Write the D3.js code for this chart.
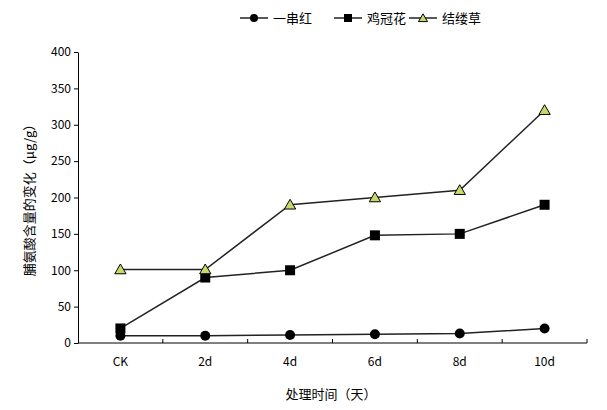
<!DOCTYPE html>
<html><head><meta charset="utf-8">
<script src="https://cdn.jsdelivr.net/npm/d3@7"></script>
<style>body{margin:0;background:#fff}text{font-family:"Noto Sans CJK SC","Open Sans",sans-serif}</style>
</head><body><svg id="chart" width="607" height="410"></svg>
<script>
const categories = ['CK', '2d', '4d', '6d', '8d', '10d'];
const yTicks = [0, 50, 100, 150, 200, 250, 300, 350, 400];
const yichuanhong = [10, 10, 11, 12, 13, 20];
const jiguanhua = [20, 90, 100, 148, 150, 190];
const jielvcao = [101, 101, 190, 200, 210, 320];

const series = [
  { name: '一串红', values: yichuanhong, shape: 'circle', lx: 240 },
  { name: '鸡冠花', values: jiguanhua, shape: 'square', lx: 334 },
  { name: '结缕草', values: jielvcao, shape: 'triangle', lx: 409 }
];

const svg = d3.select('#chart');
const plotLeft = 78, plotRight = 587, plotTop = 52, plotBottom = 343;

const x = d3.scalePoint().domain(categories).range([plotLeft, plotRight]).padding(0.5);
const y = d3.scaleLinear().domain([0, 400]).range([plotBottom, plotTop]);

// y axis
const yAxis = svg.append('g').attr('transform', `translate(${plotLeft},0)`)
  .call(d3.axisLeft(y).tickValues(yTicks).tickSize(4).tickSizeOuter(0));
yAxis.selectAll('text').attr('font-size', 12).attr('fill', '#000');
yAxis.selectAll('line,path').attr('stroke', '#000');

// x axis with ticks between categories
const step = x.step();
svg.append('line').attr('x1', plotLeft).attr('x2', plotRight).attr('y1', plotBottom).attr('y2', plotBottom).attr('stroke', '#000');
categories.slice(1).forEach(c => {
  const tx = x(c) - step / 2;
  svg.append('line').attr('x1', tx).attr('x2', tx).attr('y1', plotBottom).attr('y2', plotBottom - 4).attr('stroke', '#000');
});
svg.append('line').attr('x1', plotRight).attr('x2', plotRight).attr('y1', plotBottom).attr('y2', plotBottom - 4).attr('stroke', '#000');
categories.forEach(c => {
  svg.append('text').attr('x', x(c)).attr('y', plotBottom + 23).attr('text-anchor', 'middle')
    .attr('font-size', 12).text(c);
});

function marker(g, shape, cx, cy, s) {
  if (shape === 'circle') g.append('circle').attr('cx', cx).attr('cy', cy).attr('r', 5 * s).attr('fill', '#000');
  else if (shape === 'square') g.append('rect').attr('x', cx - 5 * s).attr('y', cy - 5 * s).attr('width', 10 * s).attr('height', 10 * s).attr('fill', '#000');
  else g.append('path').attr('d', d3.symbol(d3.symbolTriangle, 55 * s * s)()).attr('transform', `translate(${cx},${cy + 1})`)
    .attr('fill', '#c8d96a').attr('stroke', '#000').attr('stroke-width', 1);
}

const line = d3.line().x((d, i) => x(categories[i])).y(d => y(d));
series.forEach(s => {
  svg.append('path').attr('d', line(s.values)).attr('fill', 'none').attr('stroke', '#222').attr('stroke-width', 1.5);
  s.values.forEach((v, i) => marker(svg, s.shape, x(categories[i]), y(v), 1));
  // legend
  svg.append('line').attr('x1', s.lx).attr('x2', s.lx + 28).attr('y1', 18).attr('y2', 18).attr('stroke', '#222').attr('stroke-width', 1.5);
  marker(svg, s.shape, s.lx + 14, 18, 0.8);
  svg.append('text').attr('x', s.lx + 33).attr('y', 23).attr('font-size', 13).text(s.name);
});

svg.append('text').attr('transform', 'translate(34,197) rotate(-90)').attr('text-anchor', 'middle')
  .attr('font-size', 13).text('脯氨酸含量的变化（μg/g）');
svg.append('text').attr('x', 331).attr('y', 399).attr('text-anchor', 'middle')
  .attr('font-size', 13).text('处理时间（天）');
</script></body></html>
